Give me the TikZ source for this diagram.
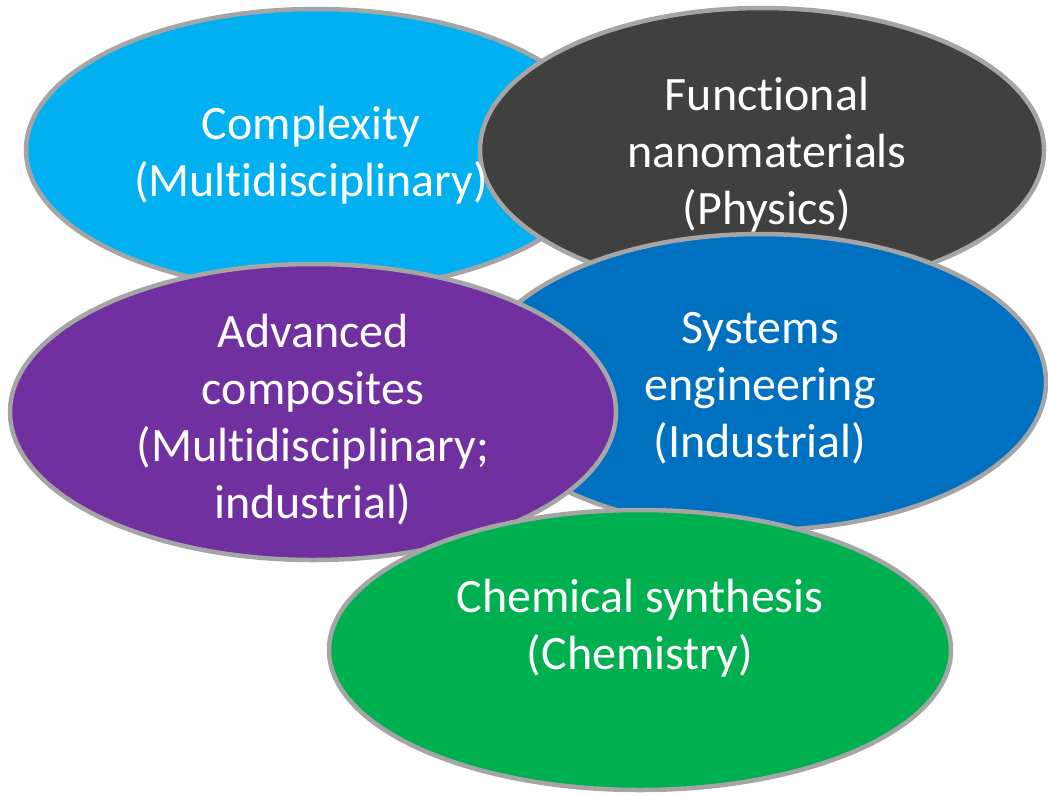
\documentclass[tikz,border=0pt]{standalone}
\usepackage{fontspec}
\setmainfont[Ligatures=NoCommon]{Carlito}
\usetikzlibrary{shapes.geometric}
\definecolor{cCyan}{HTML}{00B0F0}
\definecolor{cDark}{HTML}{404040}
\definecolor{cBlue}{HTML}{0070C0}
\definecolor{cPurple}{HTML}{7030A0}
\definecolor{cGreen}{HTML}{00B050}
\definecolor{cRim}{HTML}{A5A5A5}
\begin{document}
\begin{tikzpicture}[x=1pt,y=-1pt,
  blob/.style={draw=cRim, line width=4.5pt},
  label/.style={text=white, align=center, inner sep=0pt,
    font=\fontsize{48}{57}\selectfont}]
\useasboundingbox (0,0) rectangle (1048,795);
% overlapping ellipses, back to front
\fill[cCyan]   (316,150) ellipse [x radius=290, y radius=141];
\draw[blob]    (316,150) ellipse [x radius=290, y radius=141];
\fill[cDark]   (762,150) ellipse [x radius=282, y radius=142];
\draw[blob]    (762,150) ellipse [x radius=282, y radius=142];
\fill[cBlue]   (760,382) ellipse [x radius=286, y radius=148];
\draw[blob]    (760,382) ellipse [x radius=286, y radius=148];
\fill[cPurple] (313,412) ellipse [x radius=303, y radius=148];
\draw[blob]    (313,412) ellipse [x radius=303, y radius=148];
\fill[cGreen]  (640,650) ellipse [x radius=311, y radius=140];
\draw[blob]    (640,650) ellipse [x radius=311, y radius=140];
% labels
\node[label] (complexity) at (311,155) {Complexity\\(Multidisciplinary)};
\node[label] (nano) at (767,155) {Functional\\nanomaterials\\(Physics)};
\node[label] (systems) at (760,388) {Systems\\engineering\\(Industrial)};
\node[label] (composites) at (313,419.5) {Advanced\\composites\\(Multidisciplinary;\\industrial)};
\node[label] (chem) at (640,628) {Chemical synthesis\\(Chemistry)};
\end{tikzpicture}
\end{document}
